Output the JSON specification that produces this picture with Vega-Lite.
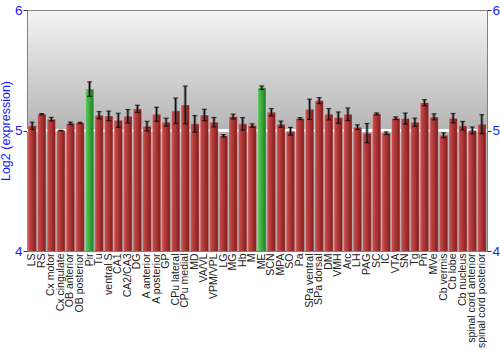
{
  "$schema": "https://vega.github.io/schema/vega-lite/v6.json",
  "autosize": "none",
  "width": 460,
  "height": 241,
  "padding": {"left": 27, "top": 10, "right": 13, "bottom": 99},
  "config": {
    "font": "Liberation Sans",
    "view": {"stroke": "#808080", "strokeWidth": 1, "fill": {"gradient": "linear", "x1": 0, "y1": 0, "x2": 0, "y2": 1, "stops": [{"offset": 0, "color": "#f4f4f4"}, {"offset": 0.5, "color": "#b4b4b4"}, {"offset": 1, "color": "#9a9a9a"}]}}
  },
  "data": {"values": [
    {"n": "LS", "v": 5.039, "lo": 5.009, "hi": 5.069, "g": 0},
    {"n": "RS", "v": 5.135, "lo": 5.130, "hi": 5.140, "g": 0},
    {"n": "Cx motor", "v": 5.094, "lo": 5.079, "hi": 5.109, "g": 0},
    {"n": "Cx cingulate", "v": 5.0, "lo": 4.998, "hi": 5.002, "g": 0},
    {"n": "OB anterior", "v": 5.06, "lo": 5.05, "hi": 5.07, "g": 0},
    {"n": "OB posterior", "v": 5.063, "lo": 5.058, "hi": 5.068, "g": 0},
    {"n": "Pir", "v": 5.344, "lo": 5.284, "hi": 5.404, "g": 1},
    {"n": "Tu", "v": 5.127, "lo": 5.097, "hi": 5.157, "g": 0},
    {"n": "ventral S", "v": 5.121, "lo": 5.081, "hi": 5.161, "g": 0},
    {"n": "CA1", "v": 5.085, "lo": 5.027, "hi": 5.143, "g": 0},
    {"n": "CA2/CA3", "v": 5.118, "lo": 5.062, "hi": 5.174, "g": 0},
    {"n": "DG", "v": 5.18, "lo": 5.15, "hi": 5.21, "g": 0},
    {"n": "A anterior", "v": 5.036, "lo": 4.996, "hi": 5.076, "g": 0},
    {"n": "A posterior", "v": 5.135, "lo": 5.077, "hi": 5.193, "g": 0},
    {"n": "GP", "v": 5.069, "lo": 5.036, "hi": 5.102, "g": 0},
    {"n": "CPu lateral", "v": 5.163, "lo": 5.057, "hi": 5.269, "g": 0},
    {"n": "CPu medial", "v": 5.212, "lo": 5.055, "hi": 5.369, "g": 0},
    {"n": "MD", "v": 5.055, "lo": 4.986, "hi": 5.124, "g": 0},
    {"n": "VA/VL", "v": 5.129, "lo": 5.082, "hi": 5.176, "g": 0},
    {"n": "VPM/VPL", "v": 5.069, "lo": 5.030, "hi": 5.108, "g": 0},
    {"n": "LG", "v": 4.956, "lo": 4.946, "hi": 4.966, "g": 0},
    {"n": "MG", "v": 5.116, "lo": 5.096, "hi": 5.136, "g": 0},
    {"n": "Hb", "v": 5.055, "lo": 5.003, "hi": 5.107, "g": 0},
    {"n": "M", "v": 5.041, "lo": 5.027, "hi": 5.055, "g": 0},
    {"n": "ME", "v": 5.355, "lo": 5.340, "hi": 5.370, "g": 1},
    {"n": "SCN", "v": 5.152, "lo": 5.122, "hi": 5.182, "g": 0},
    {"n": "MPA", "v": 5.052, "lo": 5.026, "hi": 5.078, "g": 0},
    {"n": "SO", "v": 4.994, "lo": 4.962, "hi": 5.026, "g": 0},
    {"n": "Pa", "v": 5.099, "lo": 5.091, "hi": 5.107, "g": 0},
    {"n": "SPa ventral", "v": 5.176, "lo": 5.092, "hi": 5.260, "g": 0},
    {"n": "SPa dorsal", "v": 5.248, "lo": 5.223, "hi": 5.273, "g": 0},
    {"n": "DM", "v": 5.135, "lo": 5.088, "hi": 5.182, "g": 0},
    {"n": "VMH", "v": 5.107, "lo": 5.060, "hi": 5.154, "g": 0},
    {"n": "Arc", "v": 5.135, "lo": 5.083, "hi": 5.187, "g": 0},
    {"n": "LH", "v": 5.028, "lo": 5.009, "hi": 5.047, "g": 0},
    {"n": "PAG", "v": 4.978, "lo": 4.898, "hi": 5.058, "g": 0},
    {"n": "SC", "v": 5.138, "lo": 5.130, "hi": 5.146, "g": 0},
    {"n": "IC", "v": 4.978, "lo": 4.967, "hi": 4.989, "g": 0},
    {"n": "VTA", "v": 5.102, "lo": 5.091, "hi": 5.113, "g": 0},
    {"n": "SN", "v": 5.099, "lo": 5.053, "hi": 5.145, "g": 0},
    {"n": "Tg", "v": 5.069, "lo": 5.035, "hi": 5.103, "g": 0},
    {"n": "Pn", "v": 5.231, "lo": 5.206, "hi": 5.256, "g": 0},
    {"n": "MVe", "v": 5.113, "lo": 5.088, "hi": 5.138, "g": 0},
    {"n": "Cb vermis", "v": 4.961, "lo": 4.941, "hi": 4.981, "g": 0},
    {"n": "Cb lobe", "v": 5.102, "lo": 5.063, "hi": 5.141, "g": 0},
    {"n": "Cb nucleus", "v": 5.039, "lo": 5.003, "hi": 5.075, "g": 0},
    {"n": "spinal cord anterior", "v": 5.0, "lo": 4.971, "hi": 5.029, "g": 0},
    {"n": "spinal cord posterior", "v": 5.052, "lo": 4.973, "hi": 5.131, "g": 0}
  ]},
  "encoding": {
    "x": {"field": "n", "type": "nominal", "sort": null,
      "scale": {"paddingInner": 0.12, "paddingOuter": 0.1},
      "axis": {"title": null, "labelAngle": -90, "labelFontSize": 10.5, "labelColor": "#222", "labelPadding": 2, "ticks": false, "domain": false, "labelBaseline": "middle", "labelAlign": "right", "labelOverlap": false}}
  },
  "layer": [
    {
      "mark": {"type": "rule", "color": "#ffffff", "strokeWidth": 2},
      "encoding": {"x": null, "y": {"datum": 5, "type": "quantitative", "axis": null}}
    },
    {
      "mark": {"type": "bar", "clip": true, "stroke": "#ffffff", "strokeOpacity": 0.25, "strokeWidth": 1},
      "encoding": {
        "y": {"field": "v", "type": "quantitative",
          "scale": {"domain": [4, 6], "nice": false, "zero": false},
          "axis": {"title": "Log2 (expression)", "titleColor": "#1a1aff", "titleFontSize": 12.5, "titleFontWeight": "normal", "titlePadding": 2,
            "tickCount": 2, "format": ".0f", "labelOverlap": false, "labelFlush": false, "labelColor": "#1a1aff", "labelFontSize": 13.5, "labelPadding": 1, "tickSize": 4, "tickColor": "#333",
            "grid": false, "domainColor": "#808080"}},
        "fill": {
          "condition": {"test": "datum.g == 1", "value": {"gradient": "linear", "x1": 0, "y1": 0, "x2": 1, "y2": 0, "stops": [{"offset": 0, "color": "#5fd05f"}, {"offset": 1, "color": "#1f7a1f"}]}},
          "value": {"gradient": "linear", "x1": 0, "y1": 0, "x2": 1, "y2": 0, "stops": [{"offset": 0, "color": "#d05050"}, {"offset": 1, "color": "#801a1a"}]}
        }
      }
    },
    {
      "mark": {"type": "rule", "color": "#444444", "opacity": 0.6, "strokeWidth": 3},
      "encoding": {"y": {"field": "lo", "type": "quantitative", "axis": null}, "y2": {"field": "hi"}}
    },
    {
      "mark": {"type": "rule", "color": "#000000", "strokeWidth": 1},
      "encoding": {"y": {"field": "lo", "type": "quantitative", "axis": null}, "y2": {"field": "hi"}}
    },
    {
      "mark": {"type": "tick", "color": "#000000", "size": 5, "thickness": 1.2},
      "encoding": {"y": {"field": "lo", "type": "quantitative", "axis": null}}
    },
    {
      "mark": {"type": "tick", "color": "#000000", "size": 5, "thickness": 1.2},
      "encoding": {"y": {"field": "hi", "type": "quantitative",
          "axis": {"orient": "right", "title": null, "tickCount": 2, "format": ".0f", "labelOverlap": false, "labelFlush": false, "labelColor": "#1a1aff", "labelFontSize": 13.5, "labelPadding": 1, "tickSize": 4, "tickColor": "#333", "grid": false, "domainColor": "#808080"}}}
    }
  ],
  "resolve": {"axis": {"y": "independent"}}
}
